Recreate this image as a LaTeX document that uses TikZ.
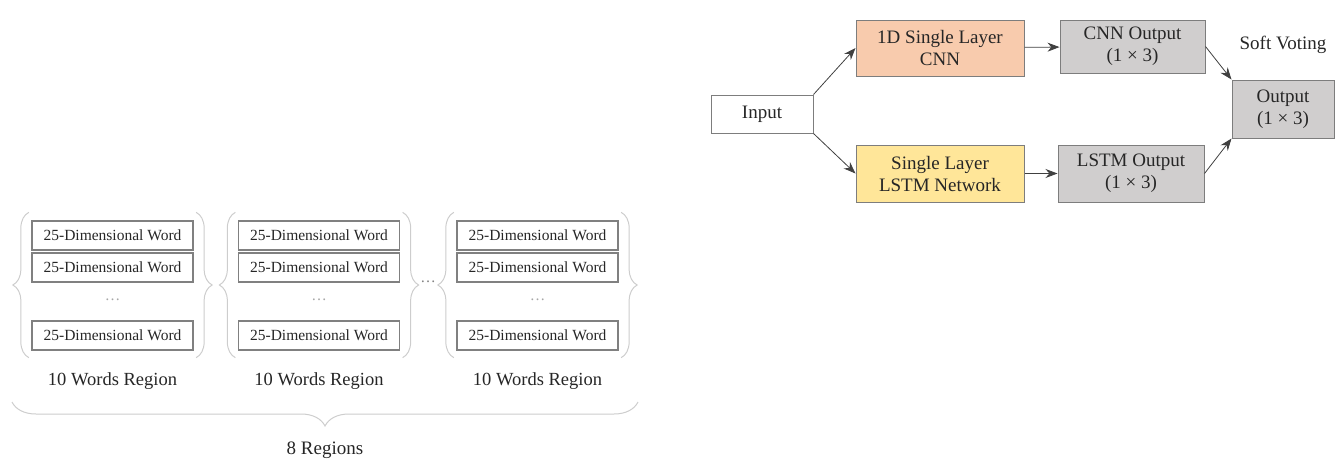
\documentclass[tikz,border=0pt]{standalone}
\usepackage{fontspec}
\setmainfont{Liberation Serif}
\usetikzlibrary{arrows.meta,decorations.pathreplacing}
\definecolor{cnnfill}{RGB}{248,203,173}
\definecolor{lstmfill}{RGB}{255,230,153}
\definecolor{outfill}{RGB}{208,206,206}
\definecolor{edgegray}{RGB}{125,125,125}
\definecolor{bracegray}{RGB}{205,205,205}
\begin{document}
\begin{tikzpicture}[x=1pt, y=-1pt,
		block/.style={draw=edgegray, line width=1pt, align=center, inner sep=0pt, text=black!85, font=\fontsize{19}{22}\selectfont},
		wordbox/.style={draw=gray, line width=1.3pt, minimum width=161pt, minimum height=29pt, inner sep=0pt, text=black!85, font=\fontsize{15.5}{18}\selectfont},
		gapdots/.style={text=gray!70, font=\fontsize{15.5}{18}\selectfont},
		regbrace/.style={draw=bracegray, line width=1pt, decorate, decoration={brace, amplitude=16pt}},
		regionlabel/.style={text=black!85, font=\fontsize{18.5}{22}\selectfont},
		flow/.style={-{Stealth[length=12pt, width=9pt]}, line width=0.8pt, draw=black!75}]
		\useasboundingbox (0,0) rectangle (1343,461);

		\foreach \name/\cx in {one/112.5, two/319, three/537.5} {
			\node[wordbox] (\name-a) at (\cx,235.5) {25-Dimensional Word};
			\node[wordbox] (\name-b) at (\cx,267.5) {25-Dimensional Word};
			\node[gapdots] (\name-dots) at (\cx,300) {\dots};
			\node[wordbox] (\name-c) at (\cx,335.5) {25-Dimensional Word};
			\draw[regbrace] ([xshift=-2.5pt, yshift=-7pt]\name-c.south west) -- ([xshift=-2.5pt, yshift=8pt]\name-a.north west);
			\draw[regbrace] ([xshift=2.5pt, yshift=8pt]\name-a.north east) -- ([xshift=2.5pt, yshift=-7pt]\name-c.south east);
			\node[regionlabel] (\name-region) at (\cx,381) {10 Words Region};
		}
		\node[gapdots, text=gray] (between) at (428,282) {\dots};
		\draw[regbrace, decoration={brace, amplitude=24pt}] (638,402) -- (12,402);
		\node[regionlabel, font=\fontsize{19}{22}\selectfont] (all) at (325,450) {8 Regions};

		\node[block, minimum width=102pt, minimum height=38pt] (input) at (762,114) {Input};
		\node[block, fill=cnnfill, minimum width=168pt, minimum height=56pt] (cnn) at (940,48) {1D Single Layer\\CNN};
		\node[block, fill=lstmfill, minimum width=168pt, minimum height=57pt] (lstm) at (940,173.5) {Single Layer\\LSTM Network};
		\node[block, fill=outfill, minimum width=145pt, minimum height=53pt] (cnnout) at (1132.5,46.5) {CNN Output\\(1 × 3)};
		\node[block, fill=outfill, minimum width=146pt, minimum height=57pt] (lstmout) at (1131,173.5) {LSTM Output\\(1 × 3)};
		\node[block, fill=outfill, minimum width=102pt, minimum height=58pt] (output) at (1283,109) {Output\\(1 × 3)};
		\node[block, draw=none] (vote) at (1283,45) {Soft Voting};

		\draw[flow] (input.north east) -- (cnn.west);
		\draw[flow] (input.south east) -- (lstm.west);
		\draw[flow] (cnn) -- (cnnout);
		\draw[flow] (lstm) -- (lstmout);
		\draw[flow] (cnnout.east) -- (output.north west);
		\draw[flow] (lstmout.east) -- (output.south west);
	\end{tikzpicture}
\end{document}
